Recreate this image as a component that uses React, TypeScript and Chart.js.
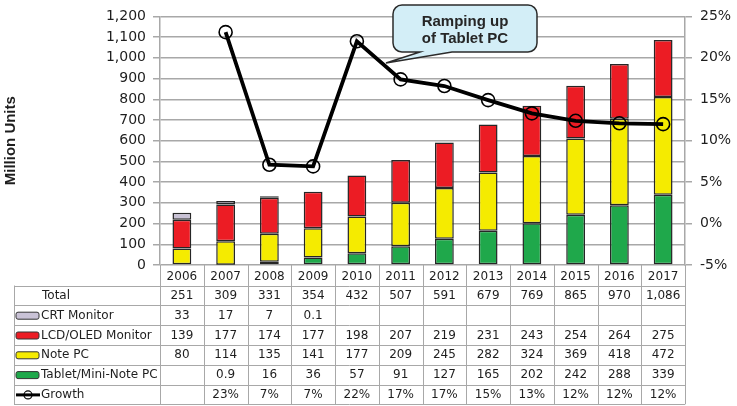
import React, { useEffect, useRef } from 'react';
import { Chart, registerables } from 'chart.js';

Chart.register(...registerables);

const years = ['2006', '2007', '2008', '2009', '2010', '2011', '2012', '2013', '2014', '2015', '2016', '2017'];
const tabletPC = [null, 0.9, 16, 36, 57, 91, 127, 165, 202, 242, 288, 339];
const notePC = [80, 114, 135, 141, 177, 209, 245, 282, 324, 369, 418, 472];
const lcdOled = [139, 177, 174, 177, 198, 207, 219, 231, 243, 254, 264, 275];
const crtMonitor = [33, 17, 7, 0.1, null, null, null, null, null, null, null, null];
const totals = [251, 309, 331, 354, 432, 507, 591, 679, 769, 865, 970, 1086];
const growth = [null, 23.1, 7.1, 6.9, 22.0, 17.4, 16.6, 14.9, 13.3, 12.4, 12.1, 12.0];

const unitsMax = 1200;
const unitsStep = 100;
const growthMin = -5;
const growthMax = 25;
const growthStep = 5;

const calloutLines = ['Ramping up', 'of Tablet PC'];

const COLORS = {
  crt: '#c9c2d6',
  lcd: '#ec1c24',
  note: '#f5eb00',
  tablet: '#1fa84b',
  outline: '#262626',
  grid: '#a8a8a8',
  text: '#1e1e1e',
  callout: '#d3eef7',
};

const TICK_FONT = { family: "'DejaVu Sans', Verdana, sans-serif", size: 14 };
const TABLE_FONT = "12px 'DejaVu Sans', Verdana, sans-serif";

const fmt = (v: number | null) => (v == null ? '' : String(v));

const tableRows = [
  { label: 'Total', kind: 'none', color: '', values: totals.map((v) => v.toLocaleString('en-US')) },
  { label: 'CRT Monitor', kind: 'box', color: COLORS.crt, values: crtMonitor.map(fmt) },
  { label: 'LCD/OLED Monitor', kind: 'box', color: COLORS.lcd, values: lcdOled.map(fmt) },
  { label: 'Note PC', kind: 'box', color: COLORS.note, values: notePC.map(fmt) },
  { label: 'Tablet/Mini-Note PC', kind: 'box', color: COLORS.tablet, values: tabletPC.map(fmt) },
  { label: 'Growth', kind: 'line', color: '#000', values: growth.map((v) => (v == null ? '' : Math.round(v) + '%')) },
];

const tablePlugin = {
  id: 'dataTable',
  afterDraw(chart: any) {
    const ctx = chart.ctx as CanvasRenderingContext2D;
    const xs = chart.scales.x;
    const area = chart.chartArea;
    const n = years.length;
    const half = (xs.getPixelForValue(1) - xs.getPixelForValue(0)) / 2;
    const tableLeft = 14;
    const rowTop = 285.5;
    const rowH = 19.8;
    const tableBottom = rowTop + rowH * tableRows.length;

    ctx.save();
    ctx.strokeStyle = COLORS.grid;
    ctx.lineWidth = 1;
    for (let r = 0; r <= tableRows.length; r++) {
      const y = Math.round(rowTop + r * rowH) + 0.5;
      ctx.beginPath();
      ctx.moveTo(tableLeft, y);
      ctx.lineTo(area.right, y);
      ctx.stroke();
    }
    ctx.beginPath();
    ctx.moveTo(tableLeft + 0.5, rowTop);
    ctx.lineTo(tableLeft + 0.5, tableBottom);
    ctx.stroke();
    for (let i = 0; i <= n; i++) {
      const x = Math.round(xs.getPixelForValue(i) - half) + 0.5;
      ctx.beginPath();
      ctx.moveTo(x, area.bottom);
      ctx.lineTo(x, tableBottom);
      ctx.stroke();
    }

    ctx.font = TABLE_FONT;
    ctx.fillStyle = COLORS.text;
    ctx.textBaseline = 'middle';
    tableRows.forEach((row, r) => {
      const yc = rowTop + r * rowH + rowH / 2 + 0.5;
      ctx.textAlign = 'left';
      ctx.fillStyle = COLORS.text;
      ctx.fillText(row.label, row.kind === 'none' ? 42 : 41, yc);
      if (row.kind === 'box') {
        ctx.beginPath();
        (ctx as any).roundRect(16, yc - 3.5, 23, 7, 2);
        ctx.fillStyle = row.color;
        ctx.fill();
        ctx.strokeStyle = '#333';
        ctx.lineWidth = 1;
        ctx.stroke();
      } else if (row.kind === 'line') {
        ctx.strokeStyle = '#000';
        ctx.lineWidth = 3;
        ctx.beginPath();
        ctx.moveTo(16, yc);
        ctx.lineTo(40, yc);
        ctx.stroke();
        ctx.lineWidth = 1.2;
        ctx.beginPath();
        ctx.arc(28, yc, 4, 0, Math.PI * 2);
        ctx.stroke();
      }
      ctx.fillStyle = COLORS.text;
      ctx.textAlign = 'center';
      row.values.forEach((v, i) => {
        if (v) ctx.fillText(v, xs.getPixelForValue(i), yc);
      });
    });
    ctx.restore();

    // callout
    ctx.save();
    const bx = 393, by = 5, bw = 144, bh = 47, rr = 9;
    const tipX = 386, tipY = 63;
    ctx.beginPath();
    ctx.moveTo(bx + rr, by);
    ctx.lineTo(bx + bw - rr, by);
    ctx.arcTo(bx + bw, by, bx + bw, by + rr, rr);
    ctx.lineTo(bx + bw, by + bh - rr);
    ctx.arcTo(bx + bw, by + bh, bx + bw - rr, by + bh, rr);
    ctx.lineTo(452, by + bh);
    ctx.lineTo(tipX, tipY);
    ctx.lineTo(420, by + bh);
    ctx.lineTo(bx + rr, by + bh);
    ctx.arcTo(bx, by + bh, bx, by + bh - rr, rr);
    ctx.lineTo(bx, by + rr);
    ctx.arcTo(bx, by, bx + rr, by, rr);
    ctx.closePath();
    ctx.fillStyle = COLORS.callout;
    ctx.fill();
    ctx.strokeStyle = '#2b2b2b';
    ctx.lineWidth = 1.5;
    ctx.stroke();
    ctx.fillStyle = '#262626';
    ctx.font = "bold 15px 'Liberation Sans', Arial, sans-serif";
    ctx.textAlign = 'center';
    ctx.textBaseline = 'middle';
    ctx.fillText(calloutLines[0], bx + bw / 2, 22);
    ctx.fillText(calloutLines[1], bx + bw / 2, 39);
    ctx.restore();
  },
};

export default function App() {
  const ref = useRef<HTMLCanvasElement | null>(null);

  useEffect(() => {
    if (!ref.current) return;
    const barCommon = {
      type: 'bar' as const,
      yAxisID: 'y',
      borderColor: COLORS.outline,
      borderWidth: 1.5,
      borderSkipped: false,
      categoryPercentage: 1,
      barPercentage: 0.43,
      order: 1,
    };
    const chart = new Chart(ref.current, {
      type: 'bar',
      data: {
        labels: years,
        datasets: [
          {
            type: 'line',
            label: 'Growth',
            data: growth,
            yAxisID: 'y1',
            borderColor: '#000',
            borderWidth: 3.8,
            pointRadius: 6.5,
            pointBorderWidth: 1.6,
            pointBorderColor: '#000',
            pointBackgroundColor: 'rgba(0,0,0,0)',
            tension: 0,
            order: 0,
          } as any,
          { ...barCommon, label: 'Tablet/Mini-Note PC', data: tabletPC, backgroundColor: COLORS.tablet },
          { ...barCommon, label: 'Note PC', data: notePC, backgroundColor: COLORS.note },
          { ...barCommon, label: 'LCD/OLED Monitor', data: lcdOled, backgroundColor: COLORS.lcd },
          { ...barCommon, label: 'CRT Monitor', data: crtMonitor, backgroundColor: COLORS.crt },
        ],
      },
      options: {
        responsive: false,
        animation: false,
        devicePixelRatio: 1,
        layout: { padding: { top: 14, left: 0, right: 0, bottom: 0 } },
        plugins: { legend: { display: false }, tooltip: { enabled: false } },
        scales: {
          x: {
            stacked: true,
            grid: { display: false, drawTicks: false },
            border: { display: false },
            ticks: { color: COLORS.text, font: { family: "'DejaVu Sans', Verdana, sans-serif", size: 12 }, padding: 5, maxRotation: 0, autoSkip: false },
            afterFit: (s: any) => { s.height = 141; },
          },
          y: {
            stacked: true,
            position: 'left',
            min: 0,
            max: unitsMax,
            ticks: {
              stepSize: unitsStep,
              color: COLORS.text,
              font: TICK_FONT,
              padding: 7,
              callback: (v: any) => Number(v).toLocaleString('en-US'),
            },
            grid: { color: COLORS.grid, lineWidth: 1.5, tickLength: 7 },
            border: { display: true, color: COLORS.grid, width: 1.5 },
            title: {
              display: true,
              text: 'Million Units',
              color: COLORS.text,
              font: { family: "'Liberation Sans', Arial, sans-serif", size: 15, weight: 'bold' },
              padding: { top: 2, bottom: 0 },
            },
            afterFit: (s: any) => { s.width = 160; },
          },
          y1: {
            position: 'right',
            min: growthMin,
            max: growthMax,
            ticks: {
              stepSize: growthStep,
              color: COLORS.text,
              font: TICK_FONT,
              padding: 8,
              callback: (v: any) => v + '%',
            },
            grid: { drawOnChartArea: false, color: COLORS.grid, lineWidth: 1.5, tickLength: 7 },
            border: { display: true, color: COLORS.grid, width: 1.5 },
            afterFit: (s: any) => { s.width = 52; },
          },
        },
      } as any,
      plugins: [tablePlugin],
    });
    return () => chart.destroy();
  }, []);

  return (
    <div style={{ position: 'absolute', left: 0, top: 0, width: 737, height: 406, background: '#fff' }}>
      <canvas ref={ref} width={737} height={406} style={{ display: 'block' }} />
    </div>
  );
}
